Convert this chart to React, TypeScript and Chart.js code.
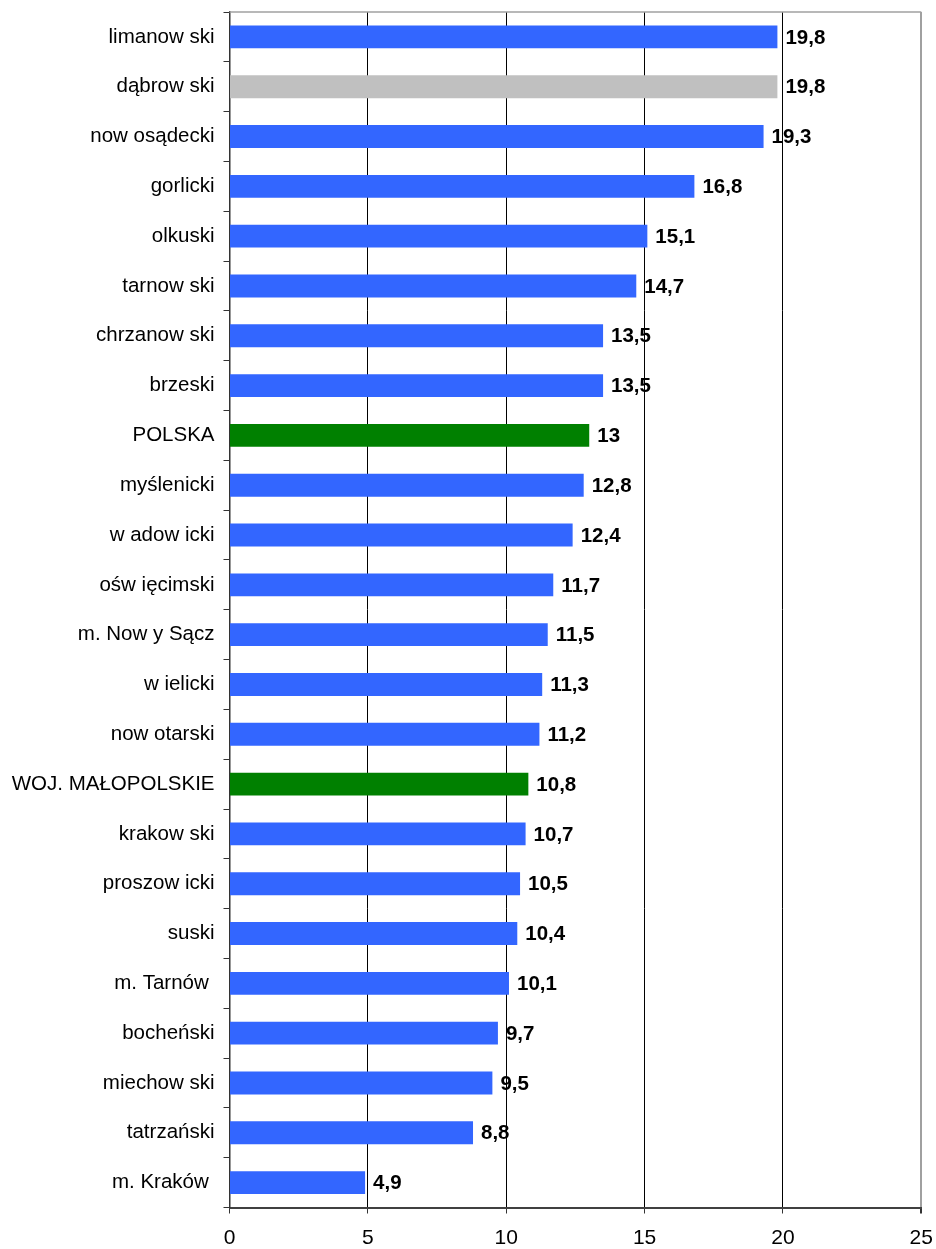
import React, { useEffect, useRef } from "react";
import { Chart, registerables } from "chart.js";

Chart.register(...registerables);

const categories: string[] = [
  "limanow ski",
  "dąbrow ski",
  "now osądecki",
  "gorlicki",
  "olkuski",
  "tarnow ski",
  "chrzanow ski",
  "brzeski",
  "POLSKA",
  "myślenicki",
  "w adow icki",
  "ośw ięcimski",
  "m. Now y Sącz",
  "w ielicki",
  "now otarski",
  "WOJ. MAŁOPOLSKIE",
  "krakow ski",
  "proszow icki",
  "suski",
  "m. Tarnów ",
  "bocheński",
  "miechow ski",
  "tatrzański",
  "m. Kraków ",
];

const values: number[] = [
  19.8, 19.8, 19.3, 16.8, 15.1, 14.7, 13.5, 13.5, 13, 12.8, 12.4, 11.7, 11.5,
  11.3, 11.2, 10.8, 10.7, 10.5, 10.4, 10.1, 9.7, 9.5, 8.8, 4.9,
];

const BLUE = "#3366FF";
const GRAY = "#C0C0C0";
const GREEN = "#008000";

const barColors: string[] = categories.map((c) =>
  c === "dąbrow ski" ? GRAY : c === "POLSKA" || c === "WOJ. MAŁOPOLSKIE" ? GREEN : BLUE
);

const xTickValues: number[] = [0, 5, 10, 15, 20, 25];

const FONT = "'Liberation Sans', Arial, sans-serif";

export default function App() {
  const ref = useRef<HTMLCanvasElement | null>(null);

  useEffect(() => {
    if (!ref.current) return;

    const valueLabels = {
      id: "valueLabels",
      afterDatasetsDraw(chart: any) {
        const ctx = chart.ctx;
        const meta = chart.getDatasetMeta(0);
        ctx.save();
        ctx.fillStyle = "#000";
        ctx.font = `bold 20.5px ${FONT}`;
        ctx.textAlign = "left";
        ctx.textBaseline = "middle";
        meta.data.forEach((bar: any, i: number) => {
          const txt = String(values[i]).replace(".", ",");
          ctx.fillText(txt, bar.x + 8, bar.y + 1);
        });
        ctx.restore();
      },
    };

    const topBorder = {
      id: "topBorder",
      afterDraw(chart: any) {
        const { ctx, chartArea } = chart;
        ctx.save();
        ctx.strokeStyle = "#a0a0a0";
        ctx.lineWidth = 1.5;
        ctx.beginPath();
        ctx.moveTo(chartArea.left, chartArea.top);
        ctx.lineTo(chartArea.right, chartArea.top);
        ctx.stroke();
        ctx.restore();
      },
    };

    const chart = new Chart(ref.current, {
      type: "bar",
      data: {
        labels: categories,
        datasets: [
          {
            data: values,
            backgroundColor: barColors,
            borderWidth: 0,
            barPercentage: 0.46,
            categoryPercentage: 1,
          },
        ],
      },
      options: {
        indexAxis: "y",
        responsive: false,
        animation: false,
        layout: { padding: { top: 12, right: 14.7, bottom: 0, left: 0 } },
        plugins: {
          legend: { display: false },
          tooltip: { enabled: false },
          title: { display: false },
        },
        scales: {
          x: {
            type: "linear",
            min: 0,
            max: 25,
            afterBuildTicks: (scale: any) => {
              scale.ticks = xTickValues.map((v) => ({ value: v }));
            },
            afterFit: (scale: any) => {
              scale.height = 41.5;
              scale.paddingLeft = 0;
              scale.paddingRight = 0;
            },
            ticks: {
              stepSize: 5,
              color: "#000",
              font: { family: FONT, size: 21 },
              padding: 12,
            },
            grid: {
              color: (ctx: any) => (ctx.tick && ctx.tick.value === 25 ? "#a0a0a0" : "#000"),
              lineWidth: (ctx: any) => (ctx.tick && ctx.tick.value === 25 ? 2 : 1),
              tickColor: "#333",
              tickLength: 6,
            },
            border: { color: "#404040", width: 2 },
          },
          y: {
            afterFit: (scale: any) => {
              scale.width = 229.5;
              scale.paddingTop = 0;
              scale.paddingBottom = 0;
            },
            ticks: {
              color: "#000",
              font: { family: FONT, size: 20.5 },
              padding: 9,
              autoSkip: false,
            },
            grid: {
              drawOnChartArea: false,
              offset: true,
              tickLength: 6,
              color: "#333",
            },
            border: { color: "#333", width: 1.5 },
          },
        },
      },
      plugins: [valueLabels, topBorder],
    } as any);

    return () => chart.destroy();
  }, []);

  return (
    <div style={{ position: "absolute", left: 0, top: 0, width: 936, height: 1249, background: "#fff" }}>
      <canvas ref={ref} width={936} height={1249} style={{ display: "block" }} />
    </div>
  );
}
